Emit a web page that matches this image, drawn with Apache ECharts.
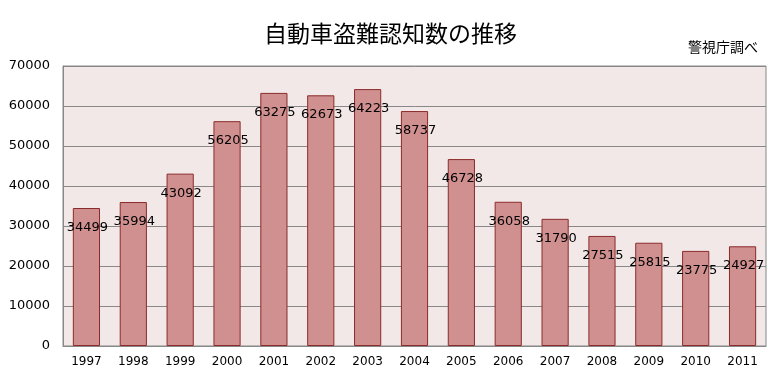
<!DOCTYPE html>
<html><head><meta charset="utf-8">
<script src="https://cdn.jsdelivr.net/npm/echarts@6/dist/echarts.min.js"></script>
<style>html,body{margin:0;padding:0;background:#fff}#c{width:781px;height:381px}</style>
</head><body><div id="c"></div>
<script>
var years = ['1997','1998','1999','2000','2001','2002','2003','2004','2005','2006','2007','2008','2009','2010','2011'];
var counts = [34499,35994,43092,56205,63275,62673,64223,58737,46728,36058,31790,27515,25815,23775,24927];
var titleText = '自動車盗難認知数の推移';
var sourceText = '警視庁調べ';

var chart = echarts.init(document.getElementById('c'), null, {renderer:'canvas'});
chart.setOption({
  animation:false,
  backgroundColor:'#ffffff',
  title:[
    {text:titleText, left:'center', top:17, textStyle:{fontFamily:'Noto Sans CJK JP', fontSize:23, fontWeight:'normal', color:'#000'}},
    {text:sourceText, right:18, top:35, textStyle:{fontFamily:'Noto Sans CJK JP', fontSize:14, fontWeight:'normal', color:'#000'}}
  ],
  grid:{left:63, right:15, top:66, bottom:35, show:true, backgroundColor:'#f2e8e8', borderColor:'#888', borderWidth:1},
  xAxis:{type:'category', data:years,
    axisLine:{lineStyle:{color:'#888'}}, axisTick:{show:false},
    axisLabel:{fontFamily:'DejaVu Sans', fontSize:12, color:'#000', margin:10}},
  yAxis:{type:'value', min:0, max:70000, interval:10000,
    axisLine:{show:true, lineStyle:{color:'#888'}}, axisTick:{show:false},
    splitLine:{lineStyle:{color:'#888'}},
    axisLabel:{fontFamily:'DejaVu Sans', fontSize:13, color:'#000', margin:13, formatter:function(v){return String(v);}}},
  series:[{type:'bar', data:counts, barWidth:'58%',
    itemStyle:{color:'#d09090', borderColor:'#8b2a2a', borderWidth:1},
    label:{show:true, position:'insideTop', distance:13, offset:[1,0], fontFamily:'DejaVu Sans', fontSize:13, color:'#000'}}]
});
</script></body></html>
